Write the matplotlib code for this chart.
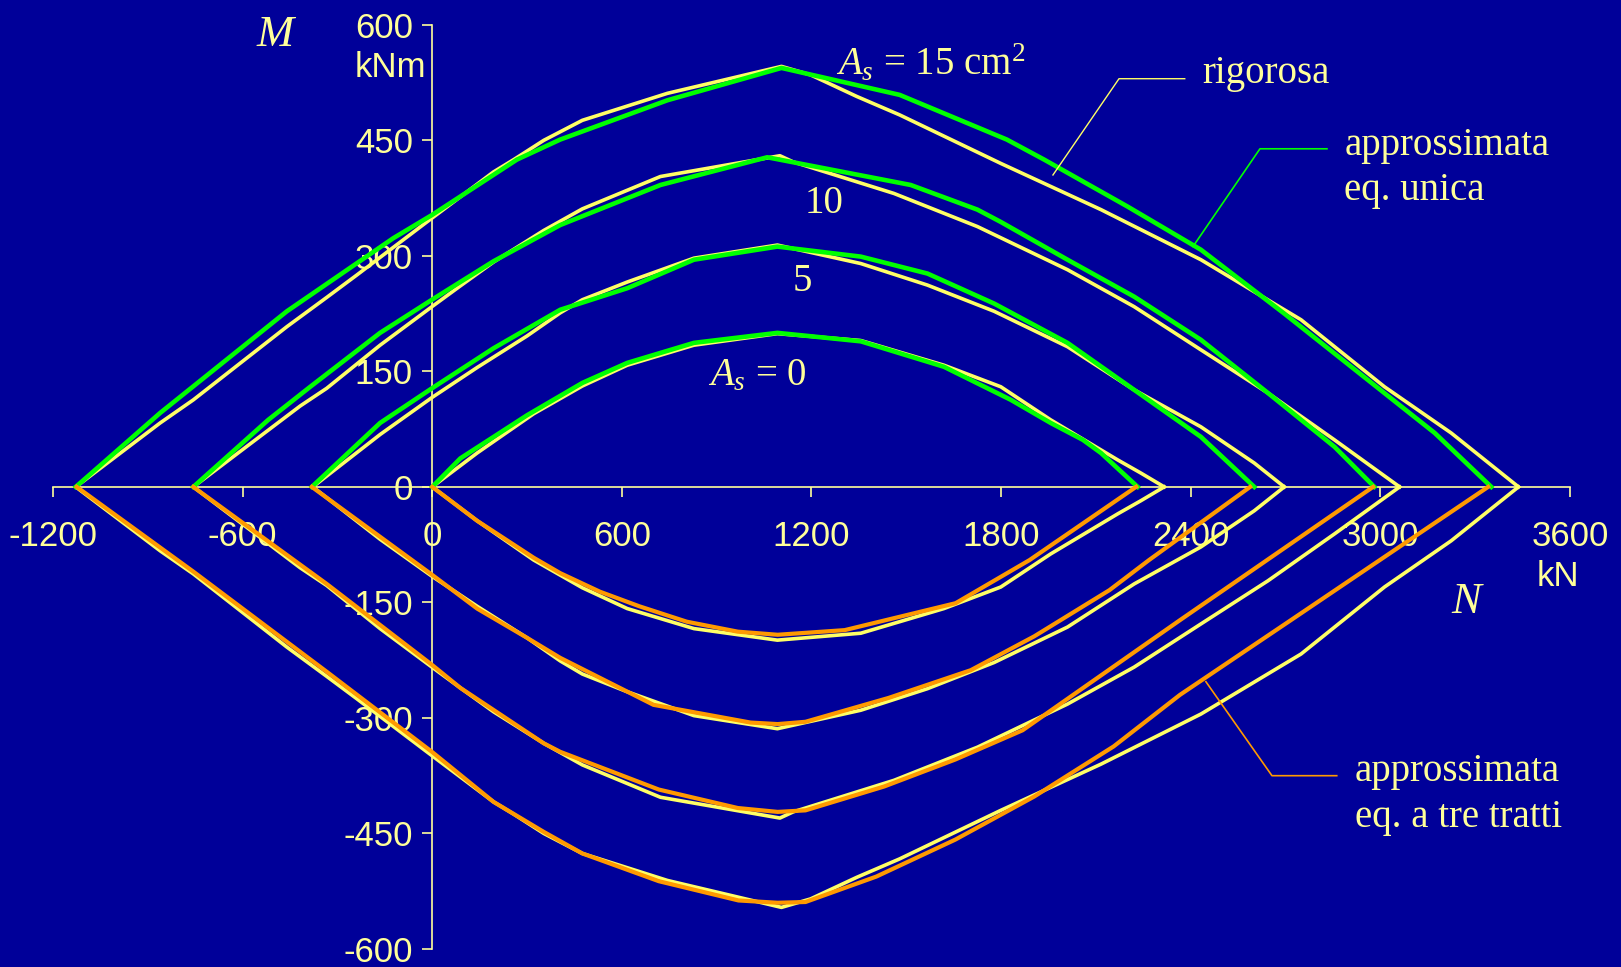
import matplotlib
matplotlib.use("Agg")
import matplotlib.pyplot as plt

#colours
BG = '#000099'
TXT = '#FFFF99'
YEL = '#FFFF66'
GRN = '#00FF00'
ORG = '#FF9900'

plt.rcParams['font.family'] = ['Liberation Sans', 'DejaVu Sans']
plt.rcParams['axes.unicode_minus'] = False
plt.rcParams['mathtext.fontset'] = 'custom'
plt.rcParams['mathtext.rm'] = 'Liberation Serif'
plt.rcParams['mathtext.it'] = 'Liberation Serif:italic'

#reinforcement areas (cm2)
as_values = [0, 5, 10, 15]

#rigorous domain, upper branch (N kN, M kNm) - drawn mirrored for the lower branch
rig_n_00 = [0, 142, 321, 475, 617, 828, 1092, 1356, 1619, 1799, 1957, 2116, 2169, 2242, 2316]
rig_m_00 = [0, 44, 95, 131, 158, 184, 199, 190, 158, 130, 87, 48, 35, 18, 0]
rig_n_05 = [-378, -165, -1, 142, 300, 405, 475, 617, 828, 1092, 1356, 1567, 1778, 2010, 2221, 2432, 2601, 2696]
rig_m_05 = [0, 68, 116, 155, 196, 226, 243, 266, 297, 314, 290, 262, 228, 182, 126, 78, 31, 0]
rig_n_10 = [-756, -418, -334, -165, -1, 89, 194, 353, 475, 722, 1100, 1142, 1461, 1725, 2010, 2221, 2432, 2644, 2855, 3061]
rig_m_10 = [0, 105, 128, 184, 234, 261, 292, 333, 361, 403, 430, 422, 381, 338, 282, 234, 178, 122, 61, 0]
rig_n_15 = [-1128, -861, -756, -460, -334, -239, -17, 194, 258, 353, 475, 744, 1105, 1197, 1343, 1479, 1799, 2116, 2432, 2749, 3013, 3224, 3437]
rig_m_15 = [0, 83, 113, 208, 246, 275, 344, 409, 425, 450, 476, 511, 546, 535, 507, 483, 420, 360, 295, 217, 130, 70, 0]

#approximate domain, single equation (upper, green)
eq_n_00 = [0, 89, 300, 475, 617, 828, 1092, 1356, 1619, 1831, 1957, 2059, 2116, 2232]
eq_m_00 = [0, 37, 93, 135, 161, 187, 200, 189, 156, 113, 83, 61, 44, 0]
eq_n_05 = [-381, -165, -1, 194, 405, 617, 828, 1092, 1356, 1567, 1778, 2010, 2221, 2432, 2601]
eq_m_05 = [0, 83, 128, 180, 230, 258, 295, 312, 299, 277, 238, 187, 126, 65, 0]
eq_n_10 = [-756, -519, -386, -165, -1, 194, 405, 722, 1060, 1514, 1725, 1799, 2010, 2221, 2432, 2644, 2855, 2981]
eq_m_10 = [0, 87, 130, 200, 243, 293, 340, 392, 428, 392, 360, 344, 295, 247, 191, 122, 52, 0]
eq_n_15 = [-1128, -861, -460, -123, -1, 268, 405, 744, 1105, 1479, 1818, 1936, 2200, 2432, 2696, 2960, 3172, 3351]
eq_m_15 = [0, 96, 228, 323, 353, 425, 451, 502, 544, 509, 451, 425, 364, 308, 225, 139, 70, 0]

#approximate domain, three-segment equation (lower, orange)
tre_n_00 = [0, 142, 321, 405, 530, 655, 805, 967, 1093, 1305, 1656, 1890, 2227]
tre_m_00 = [0, -44, -92, -112, -136, -155, -175, -188, -192, -186, -151, -95, 0]
tre_n_05 = [-381, -1, 142, 300, 405, 700, 1007, 1093, 1181, 1444, 1704, 1905, 2143, 2268, 2588]
tre_m_05 = [0, -114, -158, -196, -222, -283, -306, -308, -305, -274, -238, -194, -134, -95, 0]
tre_n_10 = [-756, -334, -1, 89, 353, 405, 717, 967, 1093, 1181, 1430, 1655, 1868, 2366, 2977]
tre_m_10 = [0, -126, -231, -261, -333, -344, -393, -417, -422, -420, -389, -354, -316, -173, 0]
tre_n_15 = [-1125, -756, -334, -1, 194, 353, 475, 717, 969, 1093, 1181, 1405, 1655, 1905, 2156, 2366, 2717, 3341]
tre_m_15 = [0, -110, -240, -344, -409, -448, -476, -512, -537, -540, -539, -506, -458, -402, -337, -270, -173, 0]

rig = [(rig_n_00, rig_m_00), (rig_n_05, rig_m_05), (rig_n_10, rig_m_10), (rig_n_15, rig_m_15)]
equ = [(eq_n_00, eq_m_00), (eq_n_05, eq_m_05), (eq_n_10, eq_m_10), (eq_n_15, eq_m_15)]
tre = [(tre_n_00, tre_m_00), (tre_n_05, tre_m_05), (tre_n_10, tre_m_10), (tre_n_15, tre_m_15)]

x_ticks = list(range(-1200, 3601, 600))
y_ticks = list(range(-600, 601, 150))

fig = plt.figure(figsize=(16.21, 9.67), dpi=100, facecolor=BG)
ax = fig.add_axes([0, 0, 1, 1], facecolor=BG)
ax.set_xlim(-1367.7, 3761.4)
ax.set_ylim(-623.4, 632.2)

#curves: rigorous first, approximations on top
for n, m in rig:
    ax.plot(n, m, color=YEL, lw=2.6, zorder=2, solid_joinstyle='round')
    ax.plot(n, [-v for v in m], color=YEL, lw=2.6, zorder=2, solid_joinstyle='round')
for n, m in equ:
    ax.plot(n, m, color=GRN, lw=3.3, zorder=3, solid_joinstyle='round')
for n, m in tre:
    ax.plot(n, m, color=ORG, lw=3.0, zorder=3, solid_joinstyle='round')

#axes through the origin
for s in ['top', 'right']:
    ax.spines[s].set_visible(False)
ax.spines['left'].set_position(('data', 0))
ax.spines['bottom'].set_position(('data', 0))
ax.spines['left'].set_bounds(-600, 600)
ax.spines['bottom'].set_bounds(-1200, 3600)
for s in ['left', 'bottom']:
    ax.spines[s].set_color(TXT)
    ax.spines[s].set_linewidth(1.2)
    ax.spines[s].set_zorder(1)

ax.set_xticks(x_ticks)
ax.set_yticks(y_ticks)
ax.tick_params(axis='both', colors=TXT, labelcolor=TXT, labelsize=25, direction='out', length=7, width=1.2)
ax.tick_params(axis='x', pad=17)
ax.tick_params(axis='y', pad=7)

#axis names and units
ax.text(-555, 572, 'M', color=TXT, fontsize=32, family='Liberation Serif', style='italic', ha='left', va='baseline')
ax.text(3223, -164, 'N', color=TXT, fontsize=32, family='Liberation Serif', style='italic', ha='left', va='baseline')
ax.text(-245, 532, 'kNm', color=TXT, fontsize=25, ha='left', va='baseline')
ax.text(3495, -129, 'kN', color=TXT, fontsize=25, ha='left', va='baseline')

#curve labels
serif = dict(color=TXT, fontsize=28, family='Liberation Serif', va='baseline')
ax.text(1276, 534, r'$A_s$ = 15 cm$^2$', ha='left', **serif)
ax.text(1239, 355, '10', ha='center', **serif)
ax.text(1170, 254, '5', ha='center', **serif)
ax.text(874, 132, r'$A_s$ = 0', ha='left', **serif)

#legend callouts
ax.plot([1964, 2173, 2381], [405, 530, 530], color=YEL, lw=1.0, zorder=4)
ax.text(2437, 524, 'rigorosa', ha='left', **serif)
ax.plot([2407, 2619, 2831], [312, 439, 439], color=GRN, lw=1.2, zorder=4)
ax.text(2886, 431, 'approssimata', ha='left', **serif)
ax.text(2886, 373, 'eq. unica', ha='left', **serif)
ax.plot([2448, 2657, 2862], [-253, -375, -375], color=ORG, lw=1.2, zorder=4)
ax.text(2919, -382, 'approssimata', ha='left', **serif)
ax.text(2919, -441, 'eq. a tre tratti', ha='left', **serif)

fig.savefig('out.png', dpi=100, facecolor=BG)
